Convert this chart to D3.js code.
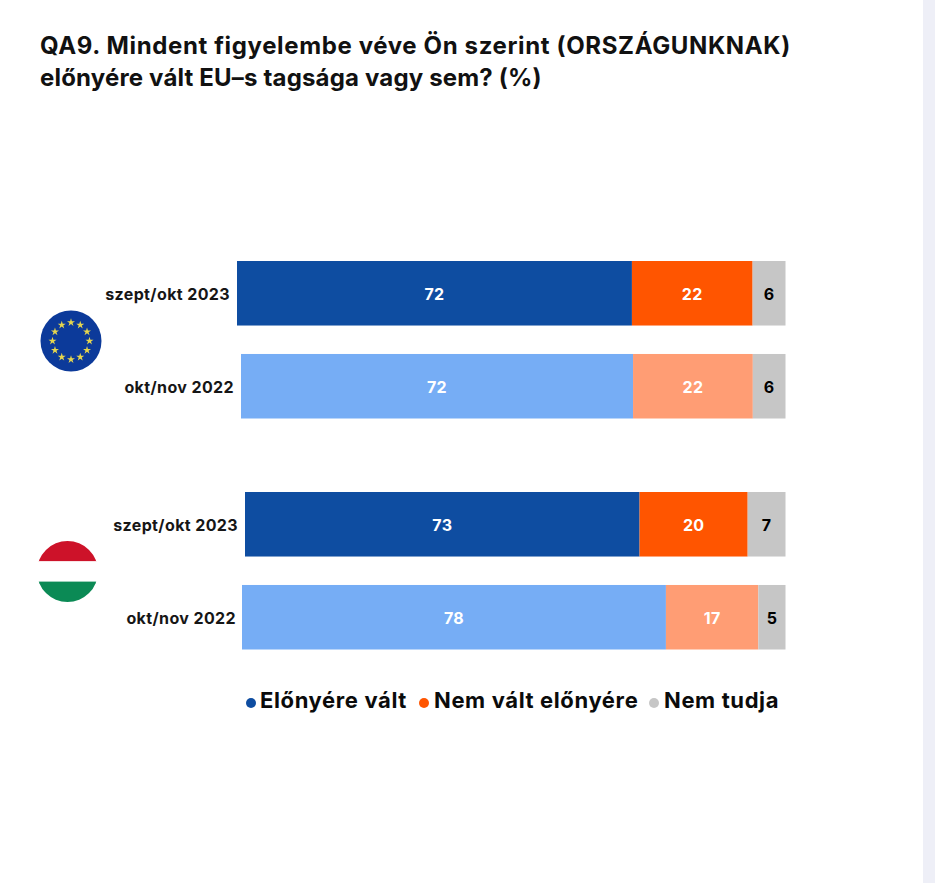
<!DOCTYPE html>
<html>
<head>
  <meta charset="utf-8">
  <title>QA9</title>
  <style>
    html, body { margin: 0; padding: 0; background: #fff; }
    text { font-family: Inter, "Noto Sans", sans-serif; font-weight: 700; }
  </style>
</head>
<body>
  <script src="https://cdn.jsdelivr.net/npm/d3@7"></script>
  <script>
    // values
    var groups = ["EU", "HU"];
    var periods = ["szept/okt 2023", "okt/nov 2022"];
    var seriesNames = ["Előnyére vált", "Nem vált előnyére", "Nem tudja"];
    var euValues = [[72, 22, 6], [72, 22, 6]];
    var huValues = [[73, 20, 7], [78, 17, 5]];
    var titleLines = [
      "QA9. Mindent figyelembe véve Ön szerint (ORSZÁGUNKNAK)",
      "előnyére vált EU–s tagsága vagy sem? (%)"
    ];

    // colours per series: recent wave, older wave
    var darkColors = ["#0e4da1", "#ff5500", "#c6c6c6"];
    var lightColors = ["#76adf5", "#ff9d74", "#c6c6c6"];
    var labelColors = ["#fff", "#fff", "#000"];

    // each row starts where its label ends, all rows end at the same x
    var rowLeft = {EU: [237, 241], HU: [245, 242]};
    var labelEnd = {EU: [230, 234], HU: [238, 236]};
    var barRight = 785.5;

    var svg = d3.select("body").append("svg")
      .attr("width", 935)
      .attr("height", 883)
      .style("display", "block");

    svg.append("rect").attr("x", 0).attr("y", 0).attr("width", 935).attr("height", 883).attr("fill", "#fff");
    // pale strip on the right edge of the page
    svg.append("rect").attr("x", 923).attr("y", 0).attr("width", 12).attr("height", 883).attr("fill", "#eeeff7");

    // title, letter spacing stands in for the wider original font
    var titleSpacing = [0.63, 0.17];
    svg.selectAll(".title")
      .data(titleLines)
      .enter().append("text")
      .attr("class", "title")
      .attr("x", 40)
      .attr("y", function(d, i) { return 54 + i * 31.5; })
      .style("font-size", "24px")
      .style("letter-spacing", function(d, i) { return titleSpacing[i] + "px"; })
      .style("fill", "#111")
      .text(function(d) { return d; });

    // group and row scales
    var y0 = d3.scaleBand().domain(groups).range([261, 723]);
    var y1 = d3.scaleBand().domain(periods).range([0, 157.5]).paddingInner(0.306);

    var allValues = {EU: euValues, HU: huValues};

    groups.forEach(function(group) {
      var g = svg.append("g").attr("transform", "translate(0," + y0(group) + ")");

      periods.forEach(function(period, p) {
        var x = d3.scaleLinear().domain([0, 100]).range([rowLeft[group][p], barRight]);
        var stack = [];
        var sum = 0;
        allValues[group][p].forEach(function(v, s) {
          stack.push({start: sum, end: sum + v, value: v, s: s});
          sum += v;
        });

        var colors = p === 0 ? darkColors : lightColors;

        g.selectAll(".bar" + p)
          .data(stack)
          .enter().append("rect")
          .attr("class", "bar" + p)
          .attr("x", function(d) { return x(d.start); })
          .attr("y", y1(period))
          .attr("width", function(d) { return x(d.end) - x(d.start); })
          .attr("height", y1.bandwidth())
          .attr("fill", function(d) { return colors[d.s]; });

        g.selectAll(".val" + p)
          .data(stack)
          .enter().append("text")
          .attr("class", "val" + p)
          .attr("x", function(d) { return (x(d.start) + x(d.end)) / 2; })
          .attr("y", y1(period) + y1.bandwidth() / 2 + 7)
          .attr("text-anchor", "middle")
          .style("font-size", "16px")
          .style("letter-spacing", "0.3px")
          .style("fill", function(d) { return labelColors[d.s]; })
          .text(function(d) { return d.value; });

        // row label
        g.append("text")
          .attr("x", labelEnd[group][p])
          .attr("y", y1(period) + y1.bandwidth() / 2 + 7)
          .attr("text-anchor", "end")
          .style("font-size", "16px")
          .style("letter-spacing", "0.38px")
          .style("fill", "#161616")
          .text(period);
      });
    });

    // EU flag
    var eu = svg.append("g").attr("transform", "translate(71,341)");
    eu.append("circle").attr("r", 30.5).attr("fill", "#0c3a9a");
    var star = d3.symbol().type(d3.symbolStar).size(20);
    eu.selectAll("path")
      .data(d3.range(12))
      .enter().append("path")
      .attr("d", star)
      .attr("fill", "#e6d64e")
      .attr("transform", function(d) {
        var a = d * Math.PI / 6;
        return "translate(" + (18.5 * Math.sin(a)) + "," + (-18.5 * Math.cos(a)) + ")";
      });

    // Hungarian flag
    var defs = svg.append("defs");
    defs.append("clipPath").attr("id", "huClip")
      .append("circle").attr("cx", 67.5).attr("cy", 571.5).attr("r", 30.5);
    var hu = svg.append("g").attr("clip-path", "url(#huClip)");
    var huStripes = ["#cd1229", "#fff", "#0b8a55"];
    hu.selectAll("rect")
      .data(huStripes)
      .enter().append("rect")
      .attr("x", 37)
      .attr("y", function(d, i) { return 541 + i * 20.3; })
      .attr("width", 61)
      .attr("height", 20.4)
      .attr("fill", function(d) { return d; });

    // legend
    var legendDot = [251, 424, 654];
    var legendText = [260, 434, 664];
    var legend = svg.selectAll(".legend")
      .data(seriesNames)
      .enter().append("g")
      .attr("class", "legend");
    legend.append("circle")
      .attr("cx", function(d, i) { return legendDot[i]; })
      .attr("cy", 703)
      .attr("r", 5)
      .attr("fill", function(d, i) { return darkColors[i]; });
    legend.append("text")
      .attr("x", function(d, i) { return legendText[i]; })
      .attr("y", 708)
      .style("font-size", "22px")
      .style("letter-spacing", "0.62px")
      .style("fill", "#0b0b0b")
      .text(function(d) { return d; });
  </script>
</body>
</html>
